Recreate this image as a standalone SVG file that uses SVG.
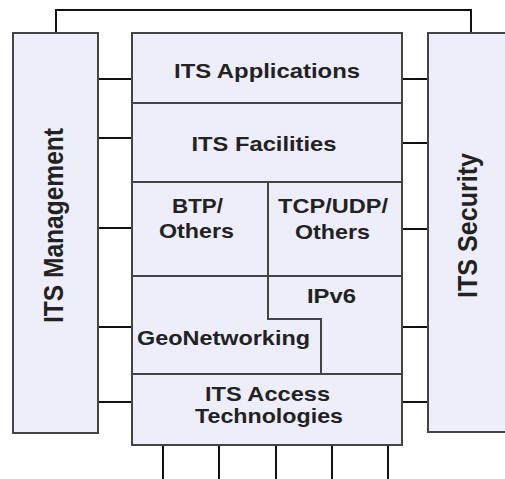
<svg xmlns="http://www.w3.org/2000/svg" width="505" height="479" viewBox="0 0 505 479">
<style>
.box{fill:#EEEEFA;stroke:#444;stroke-width:2}
.ln{fill:none;stroke:#111;stroke-width:2}
.t{font-family:"Liberation Sans",Arial,sans-serif;font-weight:bold;font-size:20.5px;fill:#222;text-anchor:middle}
.v{font-size:28px}
</style>
<rect width="505" height="479" fill="#fff"/>
<g id="connectors">
<path class="ln" d="M56,33 V10 H471 V33"/>
<path class="ln" d="M98,79 H132 M98,138 H132 M98,228 H132 M98,327 H132 M98,402 H132"/>
<path class="ln" d="M402,79 H428 M402,143 H428 M402,229 H428 M402,327 H428 M402,402 H428"/>
<path class="ln" d="M163,445 V479 M219,445 V479 M276,445 V479 M332,445 V479 M388,445 V479"/>
</g>
<g id="management">
<rect class="box" x="13" y="33" width="85" height="400"/>
<text class="t v" transform="translate(63,225.5) rotate(-90)" textLength="195" lengthAdjust="spacingAndGlyphs">ITS Management</text>
</g>
<g id="security">
<rect class="box" x="428" y="33" width="90" height="399"/>
<text class="t v" transform="translate(477,225.5) rotate(-90)" textLength="145" lengthAdjust="spacingAndGlyphs">ITS Security</text>
</g>
<g id="applications">
<rect class="box" x="132" y="33" width="270" height="70"/>
<text class="t" x="267" y="78" textLength="186" lengthAdjust="spacingAndGlyphs">ITS Applications</text>
</g>
<g id="facilities">
<rect class="box" x="132" y="103" width="270" height="79"/>
<text class="t" x="264" y="151" textLength="145" lengthAdjust="spacingAndGlyphs">ITS Facilities</text>
</g>
<g id="btp">
<rect class="box" x="132" y="182" width="136" height="94"/>
<text class="t" x="197.5" y="213" textLength="51" lengthAdjust="spacingAndGlyphs">BTP/</text>
<text class="t" x="196.5" y="238" textLength="75" lengthAdjust="spacingAndGlyphs">Others</text>
</g>
<g id="tcpudp">
<rect class="box" x="268" y="182" width="134" height="94"/>
<text class="t" x="333" y="213" textLength="110" lengthAdjust="spacingAndGlyphs">TCP/UDP/</text>
<text class="t" x="332.5" y="239" textLength="75" lengthAdjust="spacingAndGlyphs">Others</text>
</g>
<g id="geonetworking">
<polygon class="box" points="132,276 268,276 268,319 321,319 321,374 132,374"/>
<text class="t" x="223.5" y="345" textLength="173" lengthAdjust="spacingAndGlyphs">GeoNetworking</text>
</g>
<g id="ipv6">
<polygon class="box" points="268,276 402,276 402,374 321,374 321,319 268,319"/>
<text class="t" x="331.5" y="303" textLength="49" lengthAdjust="spacingAndGlyphs">IPv6</text>
</g>
<g id="access">
<rect class="box" x="132" y="374" width="270" height="71"/>
<text class="t" x="267.5" y="401" textLength="125" lengthAdjust="spacingAndGlyphs">ITS Access</text>
<text class="t" x="269" y="423" textLength="148" lengthAdjust="spacingAndGlyphs">Technologies</text>
</g>
</svg>
